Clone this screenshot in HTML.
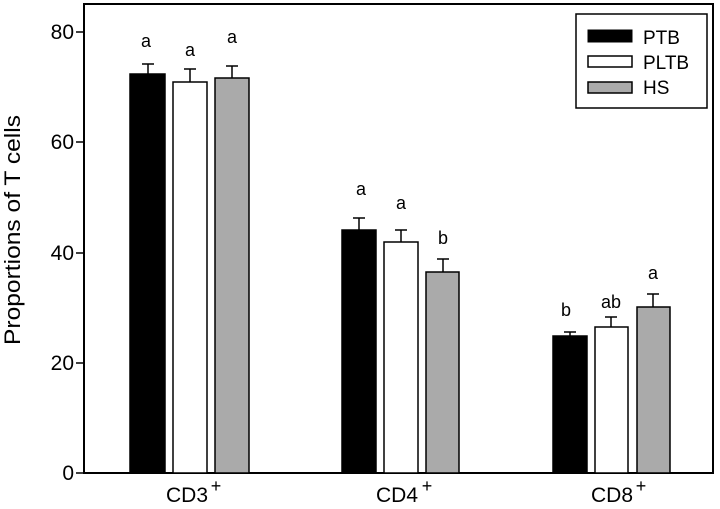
<!DOCTYPE html>
<html><head><style>body{margin:0;background:#fff}</style></head><body>
<svg width="720" height="504" xmlns="http://www.w3.org/2000/svg" font-family="Liberation Sans, Arial, sans-serif">
<rect width="720" height="504" fill="#fff"/>
<g stroke="#000" stroke-width="1.5">
<rect x="84" y="4" width="629" height="469" fill="none" stroke-width="2"/>
<line x1="76" y1="473" x2="84" y2="473"/><line x1="76" y1="363" x2="84" y2="363"/><line x1="76" y1="253" x2="84" y2="253"/><line x1="76" y1="142" x2="84" y2="142"/><line x1="76" y1="32" x2="84" y2="32"/>
</g>
<g font-size="21" text-anchor="end" fill="#000">
<text x="74" y="480">0</text><text x="74" y="370">20</text><text x="74" y="260">40</text><text x="74" y="149">60</text><text x="74" y="39">80</text>
</g>
<text transform="translate(20,230) rotate(-90)" font-size="22" text-anchor="middle" textLength="230" lengthAdjust="spacingAndGlyphs">Proportions of T cells</text>
<g stroke="#000" stroke-width="1.5">
<line x1="148" y1="74" x2="148" y2="64"/><line x1="142" y1="64" x2="154" y2="64"/>
<rect x="130" y="74" width="35" height="399" fill="#000"/>
<line x1="190" y1="82" x2="190" y2="69"/><line x1="184" y1="69" x2="196" y2="69"/>
<rect x="173" y="82" width="34" height="391" fill="#fff"/>
<line x1="232" y1="78" x2="232" y2="66"/><line x1="226" y1="66" x2="238" y2="66"/>
<rect x="215" y="78" width="34" height="395" fill="#aaa"/>
<line x1="359" y1="230" x2="359" y2="218"/><line x1="353" y1="218" x2="365" y2="218"/>
<rect x="342" y="230" width="34" height="243" fill="#000"/>
<line x1="401" y1="242" x2="401" y2="230"/><line x1="395" y1="230" x2="407" y2="230"/>
<rect x="384" y="242" width="34" height="231" fill="#fff"/>
<line x1="443" y1="272" x2="443" y2="259"/><line x1="437" y1="259" x2="449" y2="259"/>
<rect x="426" y="272" width="33" height="201" fill="#aaa"/>
<line x1="570" y1="336" x2="570" y2="332"/><line x1="564" y1="332" x2="576" y2="332"/>
<rect x="553" y="336" width="34" height="137" fill="#000"/>
<line x1="611" y1="327" x2="611" y2="317"/><line x1="605" y1="317" x2="617" y2="317"/>
<rect x="595" y="327" width="33" height="146" fill="#fff"/>
<line x1="653" y1="307" x2="653" y2="294"/><line x1="647" y1="294" x2="659" y2="294"/>
<rect x="637" y="307" width="33" height="166" fill="#aaa"/>
</g>
<g font-size="18" text-anchor="middle">
<text x="146" y="47">a</text><text x="190" y="56">a</text><text x="232" y="43">a</text>
<text x="361" y="195">a</text><text x="401" y="209">a</text><text x="443" y="244">b</text>
<text x="566" y="316">b</text><text x="611" y="308">ab</text><text x="653" y="279">a</text>
</g>
<g font-size="21" text-anchor="middle">
<text x="187" y="502">CD3</text><text x="216" y="492" font-size="18">+</text>
<text x="397" y="502">CD4</text><text x="427" y="492" font-size="18">+</text>
<text x="612" y="502">CD8</text><text x="641" y="492" font-size="18">+</text>
</g>
<rect x="576" y="14" width="131" height="94" fill="#fff" stroke="#000" stroke-width="1.5"/>
<rect x="588" y="30" width="44" height="12" fill="#000" stroke="#000"/>
<rect x="588" y="56" width="44" height="11" fill="#fff" stroke="#000" stroke-width="1.5"/>
<rect x="588" y="82" width="44" height="11" fill="#aaa" stroke="#000" stroke-width="1.5"/>
<g font-size="19"><text x="643" y="44">PTB</text><text x="643" y="69">PLTB</text><text x="643" y="94">HS</text></g>
</svg>
</body></html>
